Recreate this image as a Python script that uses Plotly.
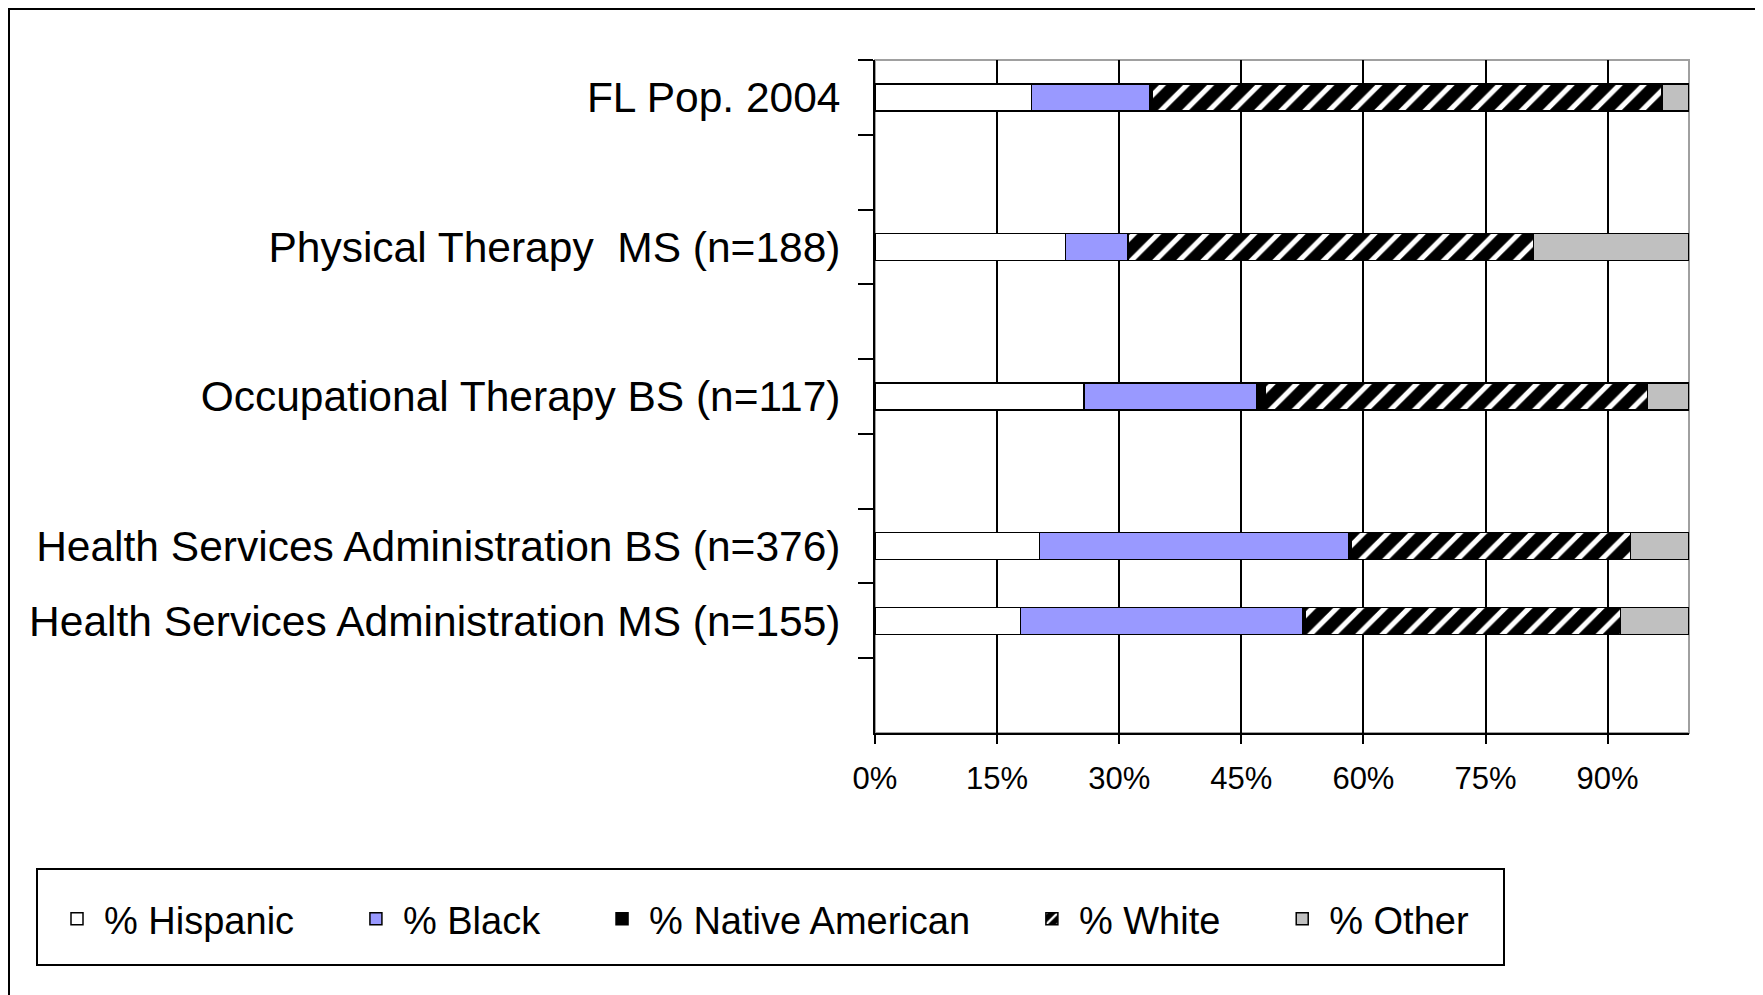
import plotly.graph_objects as go

# categories from top to bottom; blank slots keep the gaps between groups
categories = [
    "FL Pop. 2004",
    " ",
    "Physical Therapy\u00a0\u00a0MS (n=188)",
    "  ",
    "Occupational Therapy BS (n=117)",
    "   ",
    "Health Services Administration BS (n=376)",
    "Health Services Administration MS (n=155)",
    "    ",
]

hispanic = [19.2, None, 23.4, None, 25.7, None, 20.2, 17.9, None]
black = [14.5, None, 7.7, None, 21.2, None, 38.0, 34.7, None]
native_american = [0.3, None, 0.0, None, 1.1, None, 0.3, 0.3, None]
white = [62.7, None, 49.8, None, 46.9, None, 34.3, 38.7, None]
other = [3.3, None, 19.1, None, 5.1, None, 7.2, 8.4, None]

x_ticks = [0, 15, 30, 45, 60, 75, 90]
x_tick_labels = ["0%", "15%", "30%", "45%", "60%", "75%", "90%"]

FONT = "Liberation Sans, Arial, sans-serif"
PAD = "\u00a0" * 4 + "\u2009"  # spreads the legend entries apart like the original

series = [
    ("% Hispanic", hispanic, dict(color="white")),
    ("% Black", black, dict(color="#9999FF")),
    ("% Native American", native_american, dict(color="black")),
    ("% White", white, dict(color="black", pattern=dict(
        shape="/", fgcolor="white", bgcolor="black", size=17, solidity=0.3,
        fillmode="replace"))),
    ("% Other", other, dict(color="#C0C0C0")),
]

fig = go.Figure()
for i, (name, vals, mk) in enumerate(series):
    mk = dict(mk, line=dict(color="black", width=1.5))
    fig.add_trace(go.Bar(
        name=name + (PAD if i < len(series) - 1 else ""),
        y=categories, x=vals, orientation="h",
        marker=mk, width=0.36,
    ))

# plot area in page pixels; the page body adds an 8px offset
OFF = 8
L, R, T, B = 875, 1689, 60, 733
W, H = R - L, B - T


def px(x):
    return (x - L) / W


def py(y):
    return (B - y) / H


fig.update_layout(
    width=1763 - OFF,
    height=995 - OFF,
    barmode="stack",
    margin=dict(l=L - OFF, r=1763 - R, t=T - OFF, b=995 - B, autoexpand=False),
    paper_bgcolor="white",
    plot_bgcolor="white",
    font=dict(family=FONT, color="black"),
    xaxis=dict(
        range=[0, 100],
        tickvals=x_ticks,
        ticktext=x_tick_labels,
        showgrid=True,
        gridcolor="black",
        gridwidth=1.5,
        showline=True,
        linecolor="black",
        linewidth=2,
        ticks="outside",
        ticklen=9,
        tickwidth=1.5,
        tickcolor="black",
        tickfont=dict(size=31),
        ticklabelstandoff=8,
        zeroline=False,
        fixedrange=True,
    ),
    yaxis=dict(
        autorange="reversed",
        showline=True,
        linecolor="black",
        linewidth=2,
        ticks="outside",
        tickson="boundaries",
        ticklen=15,
        tickwidth=1.5,
        tickcolor="black",
        tickfont=dict(size=42.5),
        ticklabelstandoff=24,
        showgrid=False,
        fixedrange=True,
    ),
    legend=dict(
        orientation="h",
        x=px(50),
        xanchor="left",
        y=py(919),
        yanchor="middle",
        font=dict(size=38),
        bgcolor="rgba(0,0,0,0)",
        traceorder="normal",
        itemwidth=44,
    ),
    shapes=[
        # plot area frame (top and right in grey)
        dict(type="rect", xref="paper", yref="paper", x0=0, x1=1, y0=0, y1=1,
             line=dict(color="#A0A0A0", width=2), layer="below"),
        # legend box
        dict(type="rect", xref="paper", yref="paper",
             x0=px(37), x1=px(1504), y0=py(965), y1=py(869),
             line=dict(color="black", width=2)),
        # outer chart border
        dict(type="rect", xref="paper", yref="paper",
             x0=px(9), x1=px(1760), y0=py(1010), y1=py(9),
             line=dict(color="black", width=2)),
    ],
)

fig.write_html("out.html")
